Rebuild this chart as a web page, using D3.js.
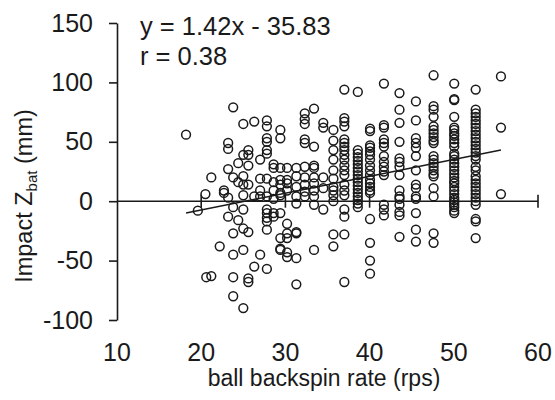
<!DOCTYPE html>
<html>
<head>
<meta charset="utf-8">
<script src="https://cdn.jsdelivr.net/npm/d3@7"></script>
<style>
  html, body { margin: 0; padding: 0; background: #fff; }
  svg { display: block; font-family: "Liberation Sans", Arial, sans-serif; }
</style>
</head>
<body>
<svg id="chart" width="555" height="400"></svg>
<script>
// ---- data ----
const spinColumns = [18.2, 19.6, 20.5, 20.6, 21.2, 22.2, 22.7, 23.2, 23.8, 24.4, 25.0, 25.6, 26.3, 27.0,
  27.8, 28.6, 29.4, 30.2, 31.3, 32.3, 33.4, 34.5, 35.7, 37.0, 38.6, 40.05, 41.7, 43.55, 45.5, 47.6,
  50.05, 52.6, 55.6];
const impactColumns = [
  [56],
  [-8],
  [6],
  [-64],
  [-63, 20],
  [-38],
  [9, 7],
  [49, 44, 27, 3, -13],
  [79, 20, -5, -27, -45, -64, -80],
  [32, 16, -16],
  [65, 39, 21, 14, 5, -7, -23, -41, -90],
  [43, 39, 30, 14, -26, -65, -68],
  [67, 4, -55],
  [35, 19, 9, 4, -45],
  [68, 63, 53, 50, 43, 40, 19, 4, -7, -10, -14, -17, -24, -57],
  [31, 28, 16, 9, 2, -10, -13],
  [60, 53, 28, 18, 14, 7, 5, -10, -31, -40, -41],
  [28, 18, 15, 9, -19, -27, -31, -43, -47],
  [28, 21, 12, 4, -2, -26, -27, -48, -70],
  [74, 69, 65, 52, 49, 29, 20, 14, 8, 4],
  [78, 46, 30, 28, 20, 15, 9, 4, -3, -41],
  [66, 62, 20, 11, -7],
  [60, 51, 43, 35, 26, 19, 12, 9, 5, 0, -28, -38],
  [94, 70, 67, 63, 52, 49, 46, 43, 39, 35, 30, 26, 22, 14, 9, 5, -7, -13, -28, -68],
  [92, 43, 40, 37, 34, 31, 28, 25, 22, 19, 16, 13, 10, 7, 4, 1, -2, -5],
  [61, 59, 47, 45, 42, 39, 35, 30, 26, 22, 18, 15, 12, 9, 7, -15, -35, -50, -61],
  [99, 64, 62, 52, 49, 46, 38, 33, 29, 25, 22, -3, -7, -12],
  [91, 77, 66, 50, 36, 33, 29, 22, 9, 4, 2, -3, -9, -12, -30],
  [84, 68, 53, 49, 45, 38, 26, 14, 11, 4, 2, -10, -24, -34],
  [106, 80, 77, 71, 63, 60, 57, 54, 51, 49, 38, 35, 32, 29, 26, 23, 21, 11, 4, -27, -35],
  [99, 86, 85, 71, 62, 60, 57, 55, 52, 49, 46, 40, 38, 35, 32, 29, 26, 23, 20, 17, 15, 12, 9, 6, 3, 1, -1, -3, -5, -8, -10],
  [94, 77, 74, 71, 68, 65, 62, 59, 56, 53, 50, 47, 44, 41, 38, 35, 29, 26, 21, 18, 15, 12, 9, 6, 3, 0, -3, -15, -17, -31],
  [105, 62, 6]
];
const xTicks = [10, 20, 30, 40, 50, 60];
const yTicks = [-100, -50, 0, 50, 100, 150];
const fitSlope = 1.42;
const fitIntercept = -35.83;
const equationLines = ["y = 1.42x - 35.83", "r = 0.38"];

// ---- build points ----
const points = [];
spinColumns.forEach((s, i) => impactColumns[i].forEach(v => points.push({ x: s, y: v })));

// ---- layout ----
const svg = d3.select("#chart");
const x = d3.scaleLinear().domain([10, 60]).range([117, 538]);
const y = d3.scaleLinear().domain([-100, 150]).range([320, 23]);
const ink = "#1a1a1a";

// y axis
const yAxis = svg.append("g").attr("transform", `translate(${x(10)},0)`)
  .call(d3.axisLeft(y).tickValues(yTicks).tickSize(8).tickSizeOuter(0).tickPadding(16).tickFormat(d => String(d)));
yAxis.select(".domain").attr("stroke", ink).attr("stroke-width", 1.6);
yAxis.selectAll(".tick line").attr("stroke", ink).attr("stroke-width", 1.6);
yAxis.selectAll(".tick text").attr("font-size", 25).attr("fill", ink)
  .attr("font-family", "Liberation Sans, Arial, sans-serif");

// x axis at y = 0 with crossing ticks
const xAxisG = svg.append("g").attr("transform", `translate(0,${y(0)})`);
xAxisG.append("line").attr("x1", x(10)).attr("x2", x(60)).attr("y1", 0).attr("y2", 0)
  .attr("stroke", ink).attr("stroke-width", 1.6);
xAxisG.selectAll("line.xt").data(xTicks.filter(t => t > 10)).join("line").attr("class", "xt")
  .attr("x1", d => x(d)).attr("x2", d => x(d)).attr("y1", -6.5).attr("y2", 6.5)
  .attr("stroke", ink).attr("stroke-width", 1.6);

// x tick labels at bottom
svg.append("g").selectAll("text").data(xTicks).join("text")
  .attr("x", d => x(d)).attr("y", 361).attr("text-anchor", "middle")
  .attr("font-size", 25).attr("fill", ink).text(d => String(d));

// points
svg.append("g").selectAll("circle").data(points).join("circle")
  .attr("cx", d => x(d.x)).attr("cy", d => y(d.y)).attr("r", 4.4)
  .attr("fill", "none").attr("stroke", ink).attr("stroke-width", 1.5);

// regression line
const [xmin, xmax] = d3.extent(points, d => d.x);
svg.append("line")
  .attr("x1", x(xmin)).attr("y1", y(fitSlope * xmin + fitIntercept))
  .attr("x2", x(xmax)).attr("y2", y(fitSlope * xmax + fitIntercept))
  .attr("stroke", ink).attr("stroke-width", 1.6);

// equation text
svg.append("g").selectAll("text").data(equationLines).join("text")
  .attr("x", 140).attr("y", (d, i) => 35 + i * 30)
  .attr("font-size", 25.5).attr("fill", ink).text(d => d);

// x label
svg.append("text").attr("x", 324).attr("y", 386).attr("text-anchor", "middle")
  .attr("font-size", 23).attr("fill", ink).text("ball backspin rate (rps)");

// y label
const yl = svg.append("text").attr("transform", "translate(32,196) rotate(-90)")
  .attr("text-anchor", "middle").attr("font-size", 23.5).attr("fill", ink);
yl.append("tspan").text("Impact Z");
yl.append("tspan").attr("font-size", 15).attr("dy", 5).text("bat");
yl.append("tspan").attr("dy", -5).text(" (mm)");
</script>
</body>
</html>
